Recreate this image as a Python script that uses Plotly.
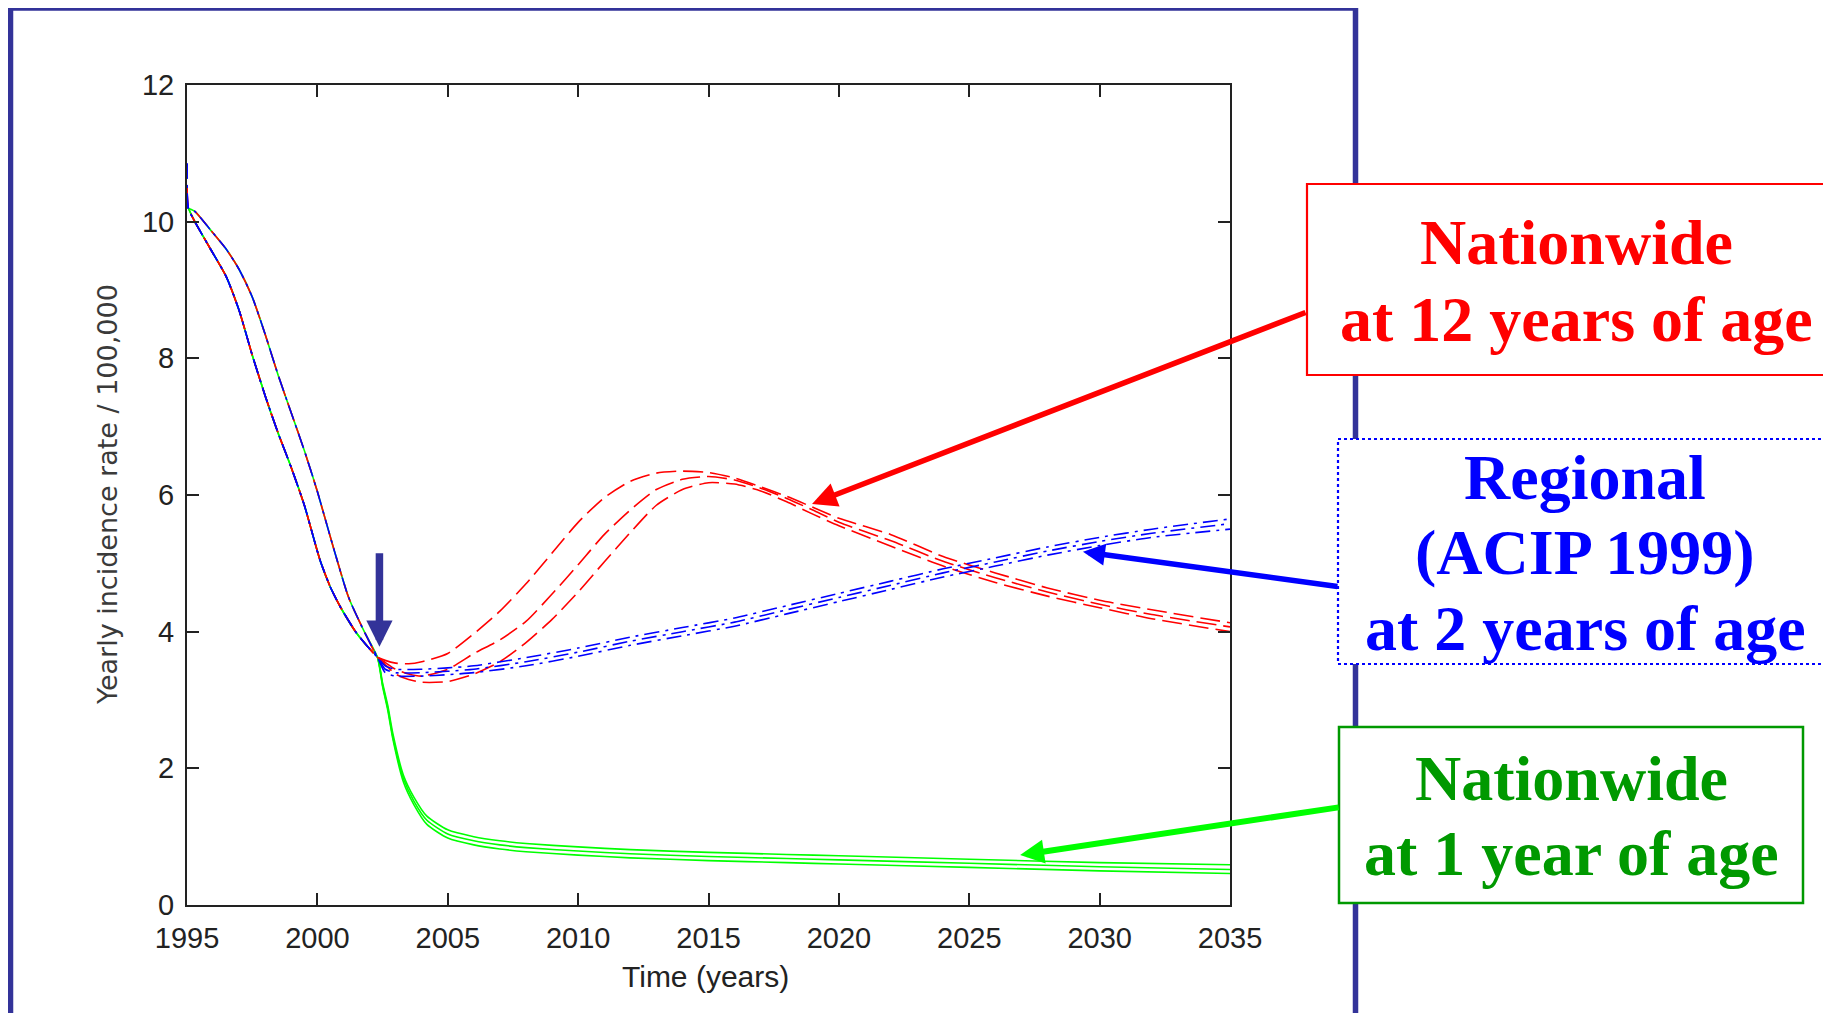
import plotly.graph_objects as go

# ---------------- data ----------------
x_ticks = [1995, 2000, 2005, 2010, 2015, 2020, 2025, 2030, 2035]
y_ticks = [0, 2, 4, 6, 8, 10, 12]

# first point at 1995 per scenario (small spikes at the left edge)
start_rate = {"red": 10.5, "blue": 10.85, "green": 10.25}

# pre-vaccination part (two bands, common to all scenarios)
pre_years_left = [1995.05, 1995.3, 1995.9, 1996.5, 1997.0, 1997.5, 1998.0, 1998.5,
                  1999.0, 1999.5, 2000.1, 2000.5, 2000.9, 2001.5, 2002.0, 2002.3]
pre_rate_left = [10.2, 10.0, 9.6, 9.2, 8.7, 8.05, 7.45, 6.9,
                 6.4, 5.85, 5.05, 4.65, 4.35, 3.98, 3.75, 3.63]
pre_years_right = [1995.05, 1995.3, 1995.9, 1996.5, 1997.0, 1997.5, 1998.0, 1998.5,
                   1999.0, 1999.5, 2000.0, 2000.6, 2001.2, 2001.8, 2002.3]
pre_rate_right = [10.2, 10.15, 9.88, 9.6, 9.3, 8.9, 8.35, 7.75,
                  7.2, 6.65, 6.05, 5.25, 4.5, 4.0, 3.63]

# Nationwide at 1 year of age (green)
green_years = [2002.5, 2002.7, 2002.9, 2003.3, 2003.7, 2004.2, 2005, 2006, 2007, 2008,
               2010, 2012, 2015, 2018, 2020, 2025, 2030, 2035]
green_1 = [3.25, 2.92, 2.50, 1.90, 1.58, 1.30, 1.10, 1.00, 0.94, 0.90,
           0.85, 0.81, 0.77, 0.74, 0.72, 0.67, 0.62, 0.59]
green_2 = [3.22, 2.88, 2.45, 1.85, 1.52, 1.24, 1.04, 0.94, 0.88, 0.84,
           0.79, 0.75, 0.71, 0.68, 0.66, 0.61, 0.56, 0.52]
green_3 = [3.20, 2.85, 2.42, 1.80, 1.47, 1.18, 0.98, 0.88, 0.82, 0.78,
           0.73, 0.69, 0.65, 0.62, 0.60, 0.55, 0.50, 0.46]

# Nationwide at 12 years of age (red)
red_years = [2002.6, 2003.0, 2003.5, 2004, 2005, 2006, 2007, 2008, 2009, 2010, 2011,
             2012, 2013, 2014, 2015, 2016, 2017, 2018, 2019, 2020, 2022, 2024, 2026,
             2028, 2030, 2032, 2035]
red_1 = [3.58, 3.54, 3.53, 3.56, 3.68, 3.97, 4.30, 4.70, 5.15, 5.60, 5.96,
         6.20, 6.32, 6.35, 6.33, 6.25, 6.12, 5.98, 5.82, 5.66, 5.42, 5.10, 4.86,
         4.64, 4.46, 4.32, 4.13]
red_2 = [3.55, 3.45, 3.38, 3.35, 3.45, 3.68, 3.88, 4.15, 4.55, 4.98, 5.42,
         5.78, 6.08, 6.23, 6.27, 6.22, 6.10, 5.95, 5.78, 5.60, 5.33, 5.03, 4.79,
         4.58, 4.40, 4.25, 4.07]
red_3 = [3.52, 3.38, 3.30, 3.26, 3.27, 3.38, 3.56, 3.84, 4.18, 4.58, 5.02,
         5.45, 5.85, 6.08, 6.18, 6.16, 6.06, 5.90, 5.72, 5.55, 5.25, 4.96, 4.72,
         4.52, 4.35, 4.19, 4.00]

# Regional (ACIP 1999) at 2 years of age (blue)
blue_years = [2002.6, 2003.0, 2004, 2005, 2006, 2008, 2010, 2012, 2014, 2016, 2018,
              2020, 2022, 2024, 2026, 2028, 2030, 2032, 2035]
blue_1 = [3.50, 3.45, 3.45, 3.47, 3.50, 3.62, 3.76, 3.92, 4.06, 4.20, 4.38,
          4.56, 4.74, 4.92, 5.08, 5.24, 5.38, 5.50, 5.65]
blue_2 = [3.45, 3.40, 3.40, 3.42, 3.45, 3.56, 3.70, 3.86, 4.00, 4.14, 4.32,
          4.50, 4.68, 4.86, 5.02, 5.18, 5.32, 5.44, 5.58]
blue_3 = [3.40, 3.35, 3.35, 3.37, 3.40, 3.50, 3.64, 3.80, 3.94, 4.08, 4.26,
          4.44, 4.62, 4.80, 4.96, 5.12, 5.26, 5.38, 5.50]

# arrow tips (data coordinates)
vacc_start_year, vacc_start_rate = 2002.38, 3.78
red_tip = (2018.97, 5.87)
blue_tip = (2029.36, 5.17)
green_tip = (2026.95, 0.73)

# ---------------- figure ----------------
OFF = 8                      # page body margin
PW, PH = 1831, 1013          # page size
W, H = PW - OFF, PH - OFF    # figure size
L, R, T, B = 187, 1230, 85, 905   # plot area in page pixels


def pxx(x):
    return (x - L) / (R - L)


def pyy(y):
    return (B - y) / (B - T)


fig = go.Figure()

bands = [(pre_years_left, pre_rate_left), (pre_years_left, pre_rate_left),
         (pre_years_right, pre_rate_right)]

series = [
    ("green", "#00FF00", "solid", green_years, [green_1, green_2, green_3]),
    ("red", "#FF0000", "20px,7px", red_years, [red_1, red_2, red_3]),
    ("blue", "#0000FF", "15px,6px,3px,6px", blue_years, [blue_1, blue_2, blue_3]),
]

for name, color, dash, yrs, variants in series:
    for (pyrs, prate), vals in zip(bands, variants):
        xs = [1995.0] + list(pyrs) + list(yrs)
        ys = [start_rate[name]] + list(prate) + list(vals)
        fig.add_trace(go.Scatter(
            x=xs, y=ys, mode="lines",
            line=dict(color=color, width=1.6, dash=dash, shape="spline", smoothing=0.6),
            showlegend=False, hoverinfo="skip"))

tick_font = dict(family="Liberation Sans, Arial, sans-serif", size=29, color="#222222")
title_font = dict(family="Liberation Sans, Arial, sans-serif", size=30, color="#222222")

fig.update_xaxes(range=[1995, 2035], tickvals=x_ticks, ticks="inside", ticklen=12,
                 tickwidth=1.5, tickcolor="#222222", showline=True, linecolor="#222222",
                 linewidth=2, mirror="allticks", showgrid=False, zeroline=False,
                 tickfont=tick_font, ticklabelstandoff=6)
fig.update_yaxes(range=[0, 12], tickvals=y_ticks, ticks="inside", ticklen=12,
                 tickwidth=1.5, tickcolor="#222222", showline=True, linecolor="#222222",
                 linewidth=2, mirror="allticks", showgrid=False, zeroline=False,
                 tickfont=tick_font, ticklabelstandoff=5)

shapes = [
    # outer frame
    dict(type="rect", xref="paper", yref="paper", x0=pxx(10.5), x1=pxx(1355.5),
         y0=pyy(1060), y1=pyy(8), line=dict(color="#333399", width=5.5),
         fillcolor="rgba(0,0,0,0)", layer="above"),
    # label boxes
    dict(type="rect", xref="paper", yref="paper", x0=pxx(1307), x1=pxx(1860),
         y0=pyy(375), y1=pyy(184), line=dict(color="#FF0000", width=2.2),
         fillcolor="white", layer="above"),
    dict(type="rect", xref="paper", yref="paper", x0=pxx(1338), x1=pxx(1860),
         y0=pyy(664), y1=pyy(439), line=dict(color="#0000FF", width=2.2, dash="dot"),
         fillcolor="white", layer="above"),
    dict(type="rect", xref="paper", yref="paper", x0=pxx(1339), x1=pxx(1803),
         y0=pyy(903), y1=pyy(727), line=dict(color="#009900", width=2.5),
         fillcolor="white", layer="above"),
]

serif = "Liberation Serif, Times New Roman, serif"
ann = []


def label(text, cx, cy, color):
    ann.append(dict(text="<b>" + text + "</b>", xref="paper", yref="paper",
                    x=pxx(cx), y=pyy(cy), xanchor="center", yanchor="middle",
                    showarrow=False, font=dict(family=serif, size=64, color=color)))


label("Nationwide", 1576, 243, "#FF0000")
label("at 12 years of age", 1576, 319, "#FF0000")
label("Regional", 1585, 477, "#0000FF")
label("(ACIP 1999)", 1585, 552, "#0000FF")
label("at 2 years of age", 1585, 629, "#0000FF")
label("Nationwide", 1571, 778, "#009900")
label("at 1 year of age", 1571, 853, "#009900")


def arrow(tip, ax, ay, color, width, size):
    ann.append(dict(text="", x=tip[0], y=tip[1], xref="x", yref="y",
                    ax=ax, ay=ay, axref="pixel", ayref="pixel", showarrow=True,
                    arrowhead=2, arrowsize=size, arrowwidth=width, arrowcolor=color))


arrow(red_tip, 495, -192, "#FF0000", 5.5, 0.9)
arrow(blue_tip, 256, 35, "#0000FF", 5.5, 0.8)
arrow(green_tip, 320, -48, "#00FF00", 6, 0.8)
arrow((vacc_start_year, vacc_start_rate), 0, -95, "#333399", 7.5, 0.7)

# axis titles
ann.append(dict(text="Yearly incidence rate / 100,000", xref="paper", yref="paper",
                x=pxx(107), y=0.5, xanchor="center", yanchor="middle", textangle=-90,
                showarrow=False,
                font=dict(family="DejaVu Sans, sans-serif", size=27, color="#3a3a3a")))
ann.append(dict(text="Time (years)", xref="paper", yref="paper",
                x=pxx(705), y=pyy(976), xanchor="center", yanchor="middle",
                showarrow=False, font=title_font))

fig.update_layout(width=W, height=H, autosize=False,
                  margin=dict(l=L - OFF, r=W - (R - OFF), t=T - OFF, b=H - (B - OFF), pad=0),
                  paper_bgcolor="white", plot_bgcolor="white",
                  shapes=shapes, annotations=ann, showlegend=False)

fig.write_html("out.html")
